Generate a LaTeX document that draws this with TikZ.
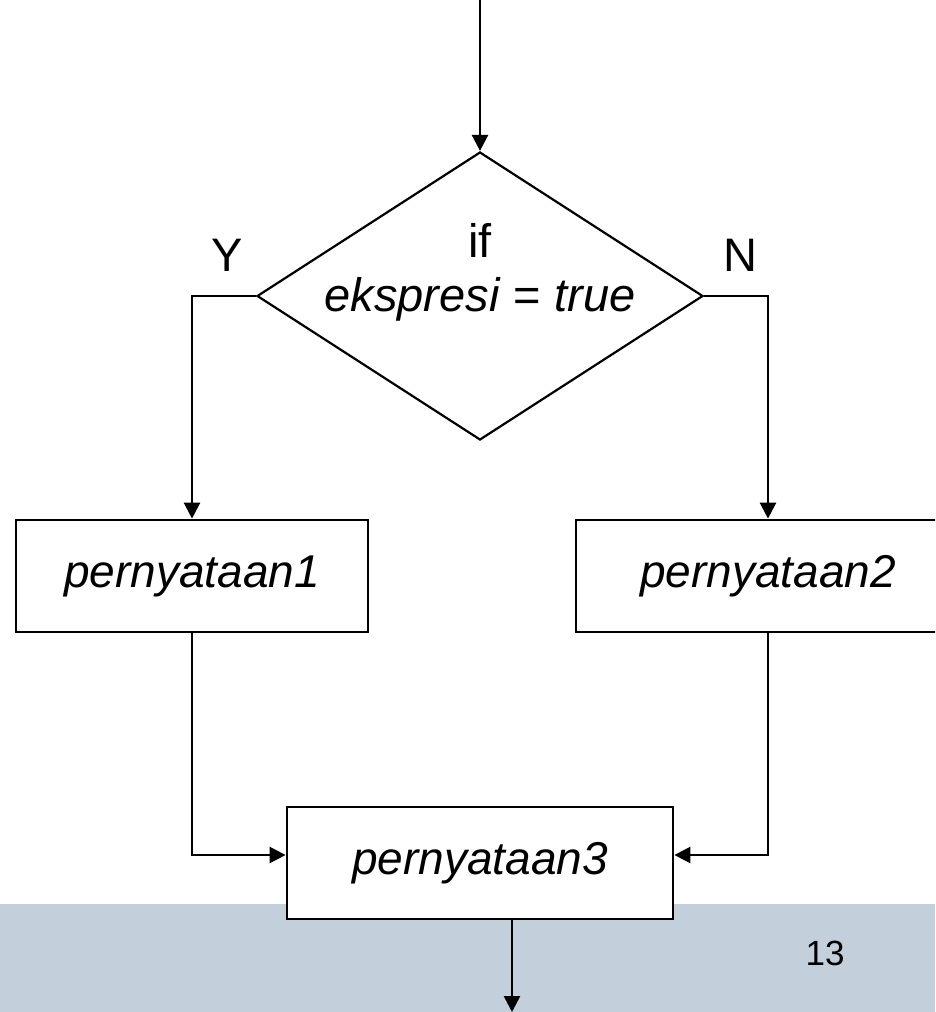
\documentclass[tikz,border=0pt]{standalone}
\usepackage{fontspec}
\setmainfont{Liberation Sans}
\usetikzlibrary{arrows.meta,shapes.geometric}
\definecolor{bandblue}{HTML}{C3CFDB}
\tikzset{
  conn/.style={line width=2.6pt,-{Triangle[width=16pt,length=16pt]}},
  plain/.style={line width=2.6pt},
  stmt/.style={draw,line width=2.8pt,fill=white,inner sep=0pt,minimum width=352pt,minimum height=112pt,font=\fontsize{46}{55}\selectfont\itshape},
  decision/.style={draw,shape=diamond,line width=2.2pt,inner sep=0pt,minimum width=446pt,minimum height=288pt},
  lbl/.style={font=\fontsize{47}{56}\selectfont,inner sep=0pt}
}
\begin{document}
\begin{tikzpicture}[x=1pt,y=-1pt]
\clip (0,0) rectangle (935,1012);
\fill[bandblue] (0,904) rectangle (935,1012);
\coordinate (start) at (480,0);
\node[decision] (cond) at (480,296) {};
\node[lbl,align=center] (condtext) at (480,272) {if\\[-2pt]\textit{ekspresi} = \textit{true}};
\node[lbl] (ylab) at (227,255) {Y};
\node[lbl] (nlab) at (740,255) {N};
\node[stmt] (s1) at (192,576) {pernyataan1};
\node[stmt,minimum width=384pt] (s2) at (768,576) {pernyataan2};
\node[stmt,minimum width=386pt] (s3) at (480,863) {pernyataan3};
\node[font=\fontsize{35}{42}\selectfont,inner sep=0pt] (page) at (825,953) {13};
\coordinate (yc) at (192,296);
\coordinate (nc) at (768,296);
\coordinate (lj) at (192,855);
\coordinate (rj) at (768,855);
\coordinate (s3in) at (s3.west |- lj);
\coordinate (s3inr) at (s3.east |- rj);
\coordinate (outtop) at (512,919);
\coordinate (end) at (512,1012);
\draw[conn] (start) -- (cond.north);
\draw[conn] (cond.west) -- (yc) -- (s1.north);
\draw[conn] (cond.east) -- (nc) -- (s2.north);
\draw[conn] (s1.south) -- (lj) -- (s3in);
\draw[conn] (s2.south) -- (rj) -- (s3inr);
\draw[conn] (s3.south -| outtop) -- (end);
\end{tikzpicture}
\end{document}
